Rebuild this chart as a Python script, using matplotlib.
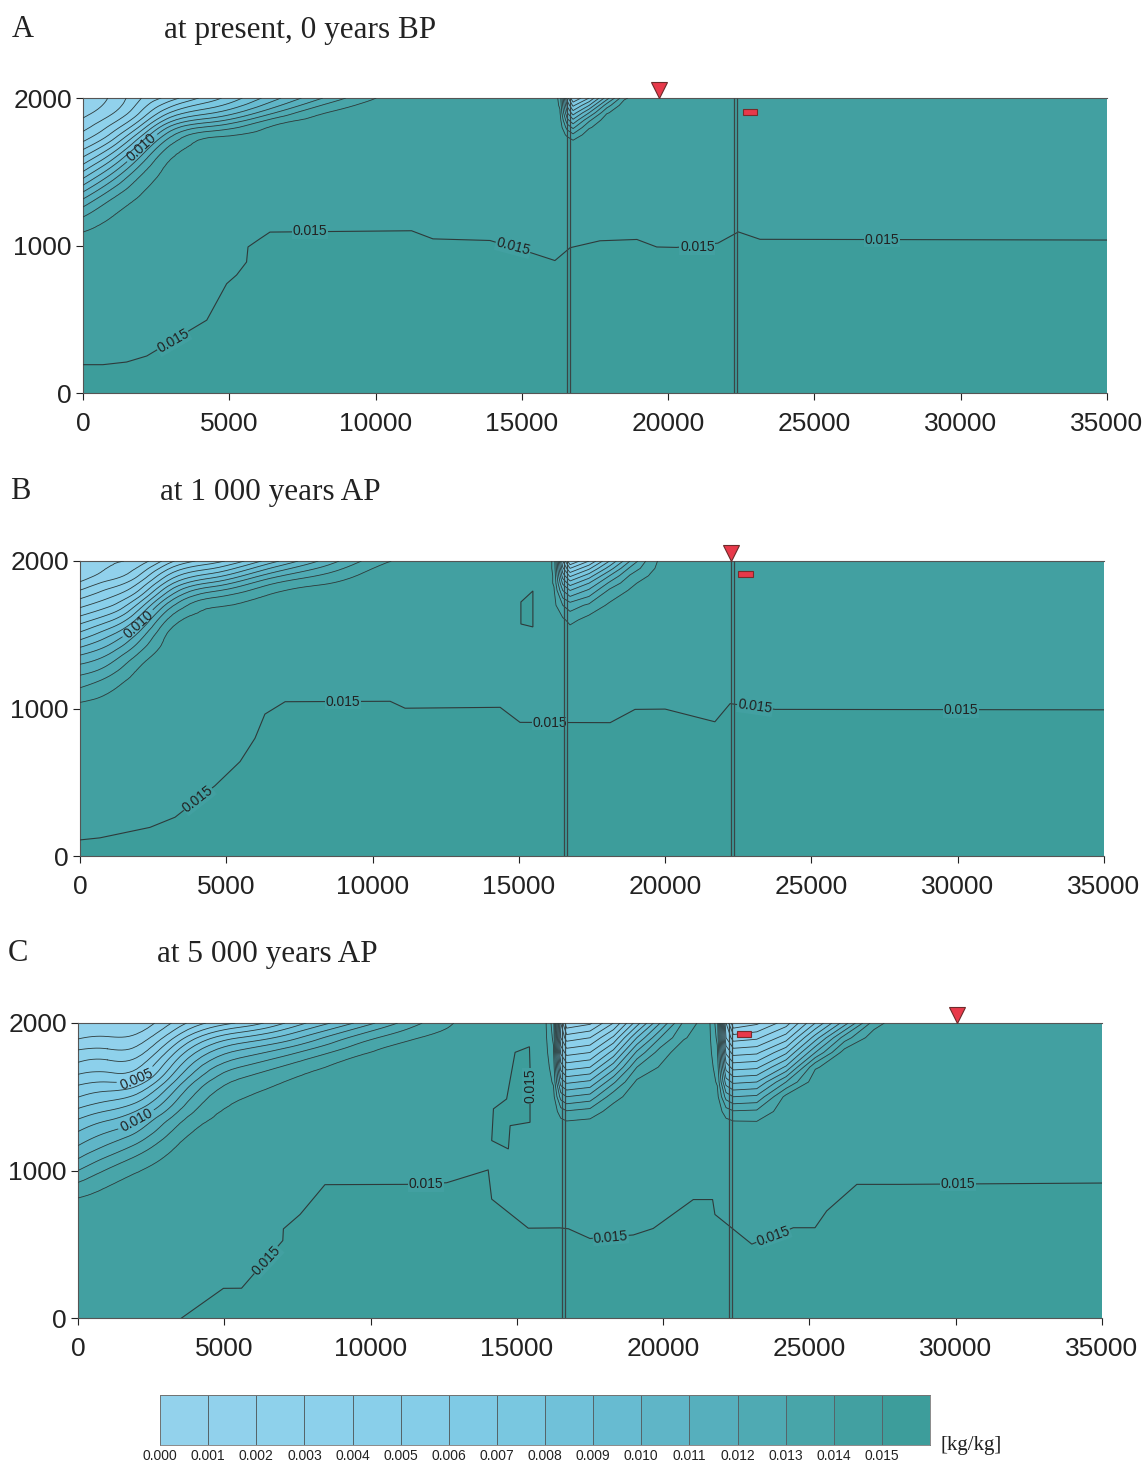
import numpy as np
import matplotlib
matplotlib.use("Agg")
from matplotlib import pyplot as plt
from matplotlib.colors import LinearSegmentedColormap, ListedColormap
from matplotlib.patches import Rectangle, Polygon
from matplotlib.transforms import ScaledTranslation
from matplotlib.tri import Triangulation, UniformTriRefiner

plt.rcParams['font.family'] = ['Liberation Sans', 'DejaVu Sans']

# ---------------- data ----------------
panel_letters = ["A", "B", "C"]
panel_titles = ["at present, 0 years BP", "at 1 000 years AP", "at 5 000 years AP"]
x_ticks = [0, 5000, 10000, 15000, 20000, 25000, 30000, 35000]
y_ticks = [0, 1000, 2000]
cbar_labels = ["0.000", "0.001", "0.002", "0.003", "0.004", "0.005", "0.006", "0.007",
               "0.008", "0.009", "0.010", "0.011", "0.012", "0.013", "0.014", "0.015"]

wells_x = [16590, 22290]
triangle_x = [19690, 22250, 30040]
rect_x = [22800, 22750, 22770]
rect_d = [1905, 1914, 1925]

# 0.015 isoline (distance, height)
iso_a_x = [0, 680, 1490, 2180, 4230, 4910, 5250, 5590, 5640, 6050, 6390, 11230, 11960,
           13910, 15340, 16130, 16650, 17670, 18930, 19610, 20290, 21700, 22400, 23140, 35000]
iso_a_d = [192, 192, 210, 251, 494, 741, 800, 888, 990, 1046, 1091, 1100, 1045,
           1034, 949, 898, 985, 1032, 1041, 990, 987, 1016, 1092, 1042, 1037]
iso_b_x = [0, 680, 2390, 3250, 4610, 5470, 5980, 6320, 7010, 10600, 11110, 14360, 15040,
           18120, 18970, 20000, 21700, 22220, 23760, 35000]
iso_b_d = [109, 123, 194, 263, 476, 640, 798, 962, 1046, 1049, 1002, 1008, 906,
           904, 994, 996, 910, 1033, 994, 991]
iso_c_x = [3540, 4970, 5590, 7000, 7020, 7590, 8440, 11230, 12600, 14020, 14140, 15390, 16470,
           16760, 17500, 18980, 19660, 21030, 21690, 21770, 23030, 24450, 25190, 25590, 26620,
           28100, 35000]
iso_c_d = [0, 201, 202, 525, 604, 702, 904, 906, 917, 1004, 806, 609, 611,
           605, 539, 563, 607, 803, 803, 702, 501, 612, 612, 726, 906,
           906, 915]

island_b_x = [15480, 15070, 15070, 15480, 15480]
island_b_d = [1797, 1722, 1573, 1553, 1797]
island_c_x = [14940, 15430, 15450, 15450, 14770, 14710, 14140, 14200, 14650, 14940]
island_c_d = [1801, 1839, 1700, 1327, 1304, 1146, 1203, 1418, 1485, 1801]

# 0.015 label (x, height, angle)
iso_labels_a = [(3080, 350, 30), (7760, 1095, 0), (14700, 990, -15), (21000, 988, 0), (27300, 1040, 0)]
iso_labels_b = [(4030, 385, 38), (8990, 1047, 0), (16060, 905, 0), (23070, 1011, -8), (30110, 991, 0)]
iso_labels_c = [(6450, 390, 47), (11890, 906, 0), (18210, 548, 5), (23760, 556, 20), (30080, 910, 0),
                (15450, 1575, 90)]

# concentration grids of the plumes [kg/kg]; one list per column (x), rows = depths
plume_d = [2000, 1900, 1825, 1750, 1600, 1450, 1300, 1150, 1000, 800, 600]
plume_a_x = [0, 1000, 2000, 3000, 4500, 6500, 8500, 10500, 12500]
plume_a_c = [
    [0.0003, 0.0007, 0.0014, 0.0023, 0.0050, 0.0081, 0.0113, 0.0135, 0.0144, 0.0146, 0.0146],
    [0.0012, 0.0019, 0.0030, 0.0043, 0.0076, 0.0108, 0.0132, 0.0142, 0.0145, 0.0146, 0.0146],
    [0.0030, 0.0042, 0.0058, 0.0078, 0.0112, 0.0133, 0.0142, 0.0145, 0.0146, 0.0146, 0.0146],
    [0.0045, 0.0071, 0.0095, 0.0117, 0.0139, 0.0144, 0.0145, 0.0146, 0.0146, 0.0146, 0.0146],
    [0.0067, 0.0090, 0.0115, 0.0137, 0.0144, 0.0145, 0.0146, 0.0146, 0.0146, 0.0146, 0.0146],
    [0.0096, 0.0119, 0.0138, 0.0144, 0.0146, 0.0146, 0.0146, 0.0146, 0.0146, 0.0146, 0.0146],
    [0.0124, 0.0141, 0.0145, 0.0146, 0.0146, 0.0146, 0.0146, 0.0146, 0.0146, 0.0146, 0.0146],
    [0.0143, 0.0146, 0.0146, 0.0146, 0.0146, 0.0146, 0.0146, 0.0146, 0.0146, 0.0146, 0.0146],
    [0.0146, 0.0146, 0.0146, 0.0146, 0.0146, 0.0146, 0.0146, 0.0146, 0.0146, 0.0146, 0.0146],
]
plume_b_x = [0, 1000, 2000, 3000, 4500, 6500, 8500, 10500, 12500]
plume_b_c = [
    [0.0000, 0.0004, 0.0016, 0.0029, 0.0055, 0.0083, 0.0110, 0.0129, 0.0143, 0.0146, 0.0146],
    [0.0009, 0.0015, 0.0028, 0.0040, 0.0068, 0.0097, 0.0120, 0.0137, 0.0145, 0.0146, 0.0146],
    [0.0014, 0.0030, 0.0045, 0.0061, 0.0094, 0.0120, 0.0138, 0.0145, 0.0146, 0.0146, 0.0146],
    [0.0035, 0.0061, 0.0081, 0.0101, 0.0131, 0.0143, 0.0146, 0.0146, 0.0146, 0.0146, 0.0146],
    [0.0055, 0.0085, 0.0110, 0.0130, 0.0143, 0.0146, 0.0146, 0.0146, 0.0146, 0.0146, 0.0146],
    [0.0085, 0.0115, 0.0133, 0.0142, 0.0146, 0.0146, 0.0146, 0.0146, 0.0146, 0.0146, 0.0146],
    [0.0115, 0.0133, 0.0142, 0.0146, 0.0146, 0.0146, 0.0146, 0.0146, 0.0146, 0.0146, 0.0146],
    [0.0139, 0.0146, 0.0146, 0.0146, 0.0146, 0.0146, 0.0146, 0.0146, 0.0146, 0.0146, 0.0146],
    [0.0146, 0.0146, 0.0146, 0.0146, 0.0146, 0.0146, 0.0146, 0.0146, 0.0146, 0.0146, 0.0146],
]
plume_c_x = [0, 1000, 2000, 3500, 5500, 7500, 9500, 11500, 13500]
plume_c_c = [
    [0.0000, 0.0009, 0.0019, 0.0028, 0.0047, 0.0066, 0.0086, 0.0102, 0.0120, 0.0141, 0.0146],
    [0.0001, 0.0011, 0.0020, 0.0030, 0.0050, 0.0073, 0.0095, 0.0113, 0.0131, 0.0144, 0.0146],
    [0.0003, 0.0013, 0.0022, 0.0032, 0.0054, 0.0082, 0.0105, 0.0124, 0.0139, 0.0146, 0.0146],
    [0.0026, 0.0046, 0.0061, 0.0074, 0.0097, 0.0116, 0.0132, 0.0142, 0.0146, 0.0146, 0.0146],
    [0.0051, 0.0080, 0.0098, 0.0112, 0.0132, 0.0141, 0.0145, 0.0146, 0.0146, 0.0146, 0.0146],
    [0.0076, 0.0099, 0.0115, 0.0128, 0.0142, 0.0146, 0.0146, 0.0146, 0.0146, 0.0146, 0.0146],
    [0.0101, 0.0123, 0.0134, 0.0142, 0.0146, 0.0146, 0.0146, 0.0146, 0.0146, 0.0146, 0.0146],
    [0.0127, 0.0139, 0.0145, 0.0146, 0.0146, 0.0146, 0.0146, 0.0146, 0.0146, 0.0146, 0.0146],
    [0.0146, 0.0146, 0.0146, 0.0146, 0.0146, 0.0146, 0.0146, 0.0146, 0.0146, 0.0146, 0.0146],
]

# plumes at the wells
well_a_d = [2000, 1950, 1900, 1850, 1800, 1750, 1700, 1600]
well_a_x = [16000, 16300, 16550, 16750, 17300, 17900, 18500, 19000]
well_a_c = [
    [0.0146, 0.0146, 0.0146, 0.0146, 0.0146, 0.0146, 0.0146, 0.0146],
    [0.0138, 0.0139, 0.0141, 0.0144, 0.0146, 0.0146, 0.0146, 0.0146],
    [0.0075, 0.0088, 0.0100, 0.0113, 0.0126, 0.0138, 0.0146, 0.0146],
    [0.0050, 0.0068, 0.0085, 0.0102, 0.0118, 0.0132, 0.0143, 0.0146],
    [0.0070, 0.0090, 0.0110, 0.0128, 0.0139, 0.0146, 0.0146, 0.0146],
    [0.0105, 0.0125, 0.0139, 0.0146, 0.0146, 0.0146, 0.0146, 0.0146],
    [0.0138, 0.0146, 0.0146, 0.0146, 0.0146, 0.0146, 0.0146, 0.0146],
    [0.0146, 0.0146, 0.0146, 0.0146, 0.0146, 0.0146, 0.0146, 0.0146],
]
well_b_d = [2000, 1950, 1900, 1850, 1800, 1700, 1600, 1500]
well_b_x = [15900, 16200, 16500, 16750, 17400, 18100, 18800, 19500, 20100]
well_b_c = [
    [0.0146, 0.0146, 0.0146, 0.0146, 0.0146, 0.0146, 0.0146, 0.0146],
    [0.0138, 0.0138, 0.0139, 0.0139, 0.0141, 0.0143, 0.0146, 0.0146],
    [0.0060, 0.0072, 0.0085, 0.0098, 0.0110, 0.0130, 0.0142, 0.0146],
    [0.0030, 0.0050, 0.0068, 0.0085, 0.0100, 0.0125, 0.0137, 0.0146],
    [0.0050, 0.0068, 0.0085, 0.0100, 0.0112, 0.0132, 0.0144, 0.0146],
    [0.0080, 0.0095, 0.0110, 0.0122, 0.0132, 0.0142, 0.0146, 0.0146],
    [0.0110, 0.0122, 0.0131, 0.0137, 0.0141, 0.0146, 0.0146, 0.0146],
    [0.0136, 0.0138, 0.0141, 0.0146, 0.0146, 0.0146, 0.0146, 0.0146],
    [0.0146, 0.0146, 0.0146, 0.0146, 0.0146, 0.0146, 0.0146, 0.0146],
]
well_c_d = [2000, 1900, 1800, 1700, 1600, 1500, 1400, 1300, 1200]
well_c1_x = [15900, 16250, 16500, 16700, 17500, 18300, 19100, 19900, 20700, 21500]
well_c1_c = [
    [0.0146, 0.0146, 0.0146, 0.0146, 0.0146, 0.0146, 0.0146, 0.0146, 0.0146],
    [0.0125, 0.0128, 0.0132, 0.0136, 0.0139, 0.0143, 0.0146, 0.0146, 0.0146],
    [0.0030, 0.0040, 0.0058, 0.0076, 0.0095, 0.0116, 0.0135, 0.0146, 0.0146],
    [0.0002, 0.0025, 0.0046, 0.0066, 0.0088, 0.0110, 0.0131, 0.0145, 0.0146],
    [0.0008, 0.0030, 0.0050, 0.0070, 0.0092, 0.0114, 0.0134, 0.0146, 0.0146],
    [0.0030, 0.0052, 0.0074, 0.0096, 0.0118, 0.0136, 0.0145, 0.0146, 0.0146],
    [0.0065, 0.0090, 0.0112, 0.0130, 0.0142, 0.0146, 0.0146, 0.0146, 0.0146],
    [0.0100, 0.0120, 0.0135, 0.0141, 0.0146, 0.0146, 0.0146, 0.0146, 0.0146],
    [0.0132, 0.0139, 0.0146, 0.0146, 0.0146, 0.0146, 0.0146, 0.0146, 0.0146],
    [0.0146, 0.0146, 0.0146, 0.0146, 0.0146, 0.0146, 0.0146, 0.0146, 0.0146],
]
well_c2_x = [21500, 21850, 22150, 22400, 23200, 24200, 25200, 26200, 27200, 28000]
well_c2_c = [
    [0.0146, 0.0146, 0.0146, 0.0146, 0.0146, 0.0146, 0.0146, 0.0146, 0.0146],
    [0.0125, 0.0128, 0.0132, 0.0136, 0.0139, 0.0143, 0.0146, 0.0146, 0.0146],
    [0.0030, 0.0040, 0.0058, 0.0076, 0.0095, 0.0116, 0.0135, 0.0146, 0.0146],
    [0.0002, 0.0025, 0.0046, 0.0066, 0.0088, 0.0110, 0.0131, 0.0145, 0.0146],
    [0.0008, 0.0028, 0.0048, 0.0068, 0.0090, 0.0112, 0.0132, 0.0144, 0.0146],
    [0.0025, 0.0045, 0.0068, 0.0092, 0.0120, 0.0143, 0.0146, 0.0146, 0.0146],
    [0.0060, 0.0085, 0.0110, 0.0139, 0.0146, 0.0146, 0.0146, 0.0146, 0.0146],
    [0.0095, 0.0125, 0.0145, 0.0146, 0.0146, 0.0146, 0.0146, 0.0146, 0.0146],
    [0.0135, 0.0146, 0.0146, 0.0146, 0.0146, 0.0146, 0.0146, 0.0146, 0.0146],
    [0.0146, 0.0146, 0.0146, 0.0146, 0.0146, 0.0146, 0.0146, 0.0146, 0.0146],
]

# ---------------- styling ----------------
cmap = LinearSegmentedColormap.from_list("salt", [
    (0.0, "#93d2ec"), (0.3, "#88cfea"), (0.45, "#7bc8e2"), (0.6, "#67bbd1"),
    (0.75, "#54aebb"), (0.9, "#44a2a4"), (1.0, "#3d9d9b")])
box_colors = [cmap(k / 15) for k in range(16)]
fill_levels = [-0.0005] + list(np.round(np.arange(1, 15) * 0.001, 3)) + [0.0155]
line_levels = list(np.round(np.arange(1, 15) * 0.001, 3))
line_col = "#2e3a3a"
bg = box_colors[14]
below = box_colors[15]

fig = plt.figure(figsize=(11.48, 14.65), dpi=100)
W, H = 1148, 1465
# left px, top px of each panel
panel_px = [(83, 98), (80, 561), (78, 1023)]
pw, ph = 1024, 295


def draw_plume(ax, xs, ds, cols, manual=None, lab_levels=None, smooth=False):
    z = np.array(cols).T
    lab_levels = lab_levels or []
    plain = [lv for lv in line_levels if not any(abs(lv - q) < 1e-9 for q in lab_levels)]
    if smooth:
        gx, gy = np.meshgrid(xs, ds)
        tri = Triangulation(gx.ravel() / 1000.0, gy.ravel() / 1000.0)
        tri_r, z_r = UniformTriRefiner(tri).refine_field(z.ravel(), subdiv=3)
        z_r = np.clip(z_r, 0.0, 0.0146)
        tri_r = Triangulation(tri_r.x * 1000.0, tri_r.y * 1000.0, tri_r.triangles)
        ax.tricontourf(tri_r, z_r, levels=fill_levels, colors=box_colors[:15], zorder=1)
        ax.tricontour(tri_r, z_r, levels=plain, colors=line_col, linewidths=0.6, zorder=3)
        if manual:
            cs = ax.tricontour(tri_r, z_r, levels=lab_levels, colors=line_col,
                               linewidths=0.6, zorder=3)
    else:
        ax.contourf(xs, ds, z, levels=fill_levels, colors=box_colors[:15], zorder=1)
        ax.contour(xs, ds, z, levels=plain, colors=line_col, linewidths=0.6, zorder=3)
        if manual:
            cs = ax.contour(xs, ds, z, levels=lab_levels, colors=line_col,
                            linewidths=0.6, zorder=3)
    if manual:
        ax.clabel(cs, manual=manual, inline=True, fmt='%.3f',
                  fontsize=10, colors='#222222', inline_spacing=3)


plumes = [
    [(plume_a_x, plume_d, plume_a_c, [(2050, 1655)], [0.010], True),
     (well_a_x, well_a_d, well_a_c, None, None, False)],
    [(plume_b_x, plume_d, plume_b_c, [(1990, 1573)], [0.010], True),
     (well_b_x, well_b_d, well_b_c, None, None, False)],
    [(plume_c_x, plume_d, plume_c_c, [(2000, 1622), (2000, 1340)], [0.005, 0.010], True),
     (well_c1_x, well_c_d, well_c1_c, None, None, False),
     (well_c2_x, well_c_d, well_c2_c, None, None, False)],
]
isos = [(iso_a_x, iso_a_d), (iso_b_x, iso_b_d), (iso_c_x, iso_c_d)]
islands = [[], [(island_b_x, island_b_d)], [(island_c_x, island_c_d)]]
iso_labels = [iso_labels_a, iso_labels_b, iso_labels_c]
title_pos = [((12, 37), (164, 38)), ((10, 499), (160, 500)), ((8, 961), (157, 962))]

for i in range(3):
    lx, ty = panel_px[i]
    ax = fig.add_axes([lx / W, 1 - (ty + ph) / H, pw / W, ph / H])
    ax.set_facecolor(bg)
    ax.set_xlim(0, 35000)
    ax.set_ylim(0, 2000)

    for (xs, ds, cols, manual, lev, smooth) in plumes[i]:
        draw_plume(ax, xs, ds, cols, manual, lev, smooth)

    # region above 0.015 (below the isoline)
    ix, idp = isos[i]
    poly = list(zip(ix, idp)) + [(35000, 0), (ix[0], 0)]
    ax.add_patch(Polygon(poly, closed=True, facecolor=below, edgecolor='none', zorder=2))
    ax.plot(ix, idp, color=line_col, lw=0.8, zorder=3)
    for (sx, sd) in islands[i]:
        ax.add_patch(Polygon(list(zip(sx, sd)), closed=True, facecolor=below,
                             edgecolor=line_col, lw=0.8, zorder=3))
    for (tx, td, rot) in iso_labels[i]:
        ax.text(tx, td, "0.015", fontsize=10, color='#222222', rotation=rot,
                ha='center', va='center', rotation_mode='anchor', zorder=4,
                bbox=dict(boxstyle='square,pad=0.05', facecolor=bg, edgecolor='none'))

    # wells (double lines)
    for wx in wells_x:
        ax.vlines([wx - 55, wx + 55], 0, 2000, color='#3a4545', lw=0.9, zorder=4)

    # markers
    off = ScaledTranslation(0, 5.5 / 72, fig.dpi_scale_trans)
    ax.plot([triangle_x[i]], [2000], marker='v', markersize=11, color='#e8394a',
            markeredgecolor='#6d2b2b', markeredgewidth=0.8, clip_on=False,
            transform=ax.transData + off, zorder=6)
    ax.add_patch(Rectangle((rect_x[i] - 250, rect_d[i] - 21), 500, 42, facecolor='#e8394a',
                           edgecolor='#7a2b2b', lw=0.8, zorder=6))

    ax.set_xticks(x_ticks)
    ax.set_xticklabels([str(v) for v in x_ticks])
    ax.set_yticks(y_ticks)
    ax.set_yticklabels([str(v) for v in y_ticks])
    ax.tick_params(axis='x', length=5, width=0.8, pad=9, labelsize=19, colors='#222222')
    ax.tick_params(axis='y', length=5, width=0.8, pad=3, labelsize=19, colors='#222222')
    for s in ['left', 'bottom', 'top']:
        ax.spines[s].set_color('#555555')
        ax.spines[s].set_linewidth(0.8)
    ax.spines['right'].set_visible(False)

    (lpx, lpy), (tpx, tpy) = title_pos[i]
    fig.text(lpx / W, 1 - lpy / H, panel_letters[i], family='Liberation Serif',
             fontsize=22, va='baseline', ha='left', color='#222222')
    fig.text(tpx / W, 1 - tpy / H, panel_titles[i], family='Liberation Serif',
             fontsize=22.5, va='baseline', ha='left', color='#222222')

# colour legend
cax = fig.add_axes([160 / W, 1 - 1445 / H, 770 / W, 50 / H])
cax.pcolormesh(np.arange(17), [0, 1], np.arange(16).reshape(1, 16),
               cmap=ListedColormap(box_colors), edgecolors='#55656a', linewidth=0.6)
cax.set_xlim(0, 16)
cax.set_ylim(0, 1)
cax.set_yticks([])
cax.set_xticks(range(16))
cax.set_xticklabels(cbar_labels)
cax.tick_params(axis='x', length=0, pad=3, labelsize=10, colors='#222222')
for s in cax.spines.values():
    s.set_color('#777777')
    s.set_linewidth(0.6)
fig.text(940 / W, 1 - 1450 / H, "[kg/kg]", family='Liberation Serif', fontsize=15,
         va='baseline', ha='left', color='#222222')

fig.savefig("out.png", dpi=100)
